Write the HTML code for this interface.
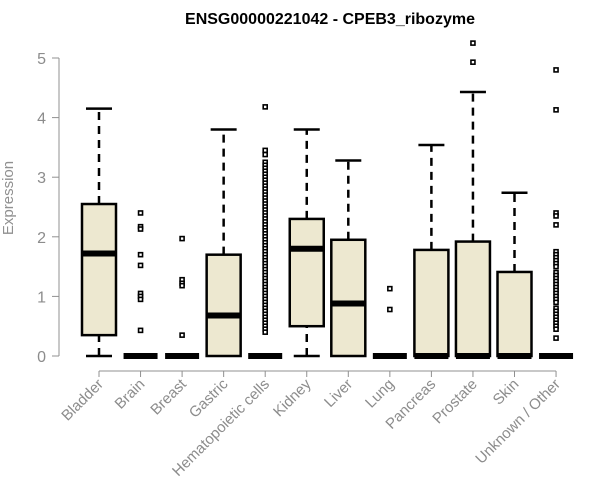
<!DOCTYPE html>
<html><head><meta charset="utf-8"><style>
body{margin:0;background:#fff;}
svg{display:block;font-family:"Liberation Sans",Arial,sans-serif;}
</style></head><body>
<svg id="chart" width="600" height="500" viewBox="0 0 600 500" xmlns="http://www.w3.org/2000/svg">
<text x="330" y="24" text-anchor="middle" font-size="16" font-weight="bold" fill="#000">ENSG00000221042 - CPEB3_ribozyme</text>
<text transform="translate(13,198) rotate(-90)" text-anchor="middle" font-size="15" fill="#909090">Expression</text>
<g id="axes"></g>
<g id="boxes"></g>
</svg>
<script>
const categories=["Bladder","Brain","Breast","Gastric","Hematopoietic cells","Kidney","Liver","Lung","Pancreas","Prostate","Skin","Unknown / Other"];
const mins=[0,0,0,0,0,0,0,0,0,0,0,0];
const q1s=[0.35,0,0,0,0,0.5,0,0,0,0,0,0];
const medians=[1.72,0,0,0.68,0,1.8,0.88,0,0,0,0,0];
const q3s=[2.55,0,0,1.7,0,2.3,1.95,0,1.78,1.92,1.41,0];
const maxs=[4.15,0,0,3.8,0,3.8,3.28,0,3.54,4.43,2.74,0];
const outliers=[
 [],
 [2.4,2.17,2.13,1.7,1.52,1.05,1.0,0.95,0.43],
 [1.97,1.28,1.22,1.18,0.35],
 [],
 [4.18,3.45,3.38,3.25,3.2,3.15,3.1,3.05,3.0,2.95,2.9,2.85,2.8,2.75,2.7,2.65,2.6,2.55,2.5,2.45,2.4,2.35,2.3,2.25,2.2,2.15,2.1,2.05,2.0,1.95,1.9,1.85,1.8,1.75,1.7,1.65,1.6,1.55,1.5,1.45,1.4,1.35,1.3,1.25,1.2,1.15,1.1,1.05,1.0,0.95,0.9,0.85,0.8,0.75,0.7,0.65,0.6,0.55,0.5,0.45,0.4],
 [],
 [],
 [1.13,0.78],
 [],
 [5.25,4.93],
 [],
 [4.8,4.13,2.4,2.35,2.2,1.75,1.7,1.65,1.6,1.55,1.5,1.4,1.35,1.3,1.25,1.2,1.15,1.1,1.05,1.0,0.95,0.9,0.8,0.75,0.7,0.65,0.6,0.55,0.5,0.45,0.3]
];
const yTicks=[0,1,2,3,4,5];
const NS="http://www.w3.org/2000/svg";
const y=v=>356-v*59.6;
const x=i=>99+i*41.55;
function mk(tag,attrs,parent){const e=document.createElementNS(NS,tag);for(const k in attrs)e.setAttribute(k,attrs[k]);parent.appendChild(e);return e;}
const axes=document.getElementById('axes'),boxes=document.getElementById('boxes');
let a=mk('line',{x1:59,x2:59,y1:y(0),y2:y(5),stroke:'#909090'},axes);


yTicks.forEach(t=>{
 const l=mk('line',{x1:52,x2:59,y1:y(t),y2:y(t),stroke:'#909090'},axes);
 
 
 const tx=mk('text',{x:46,y:y(t)+6,'text-anchor':'end','font-size':16,fill:'#8c8c8c'},axes);
 tx.textContent=t;
 
 
});
a=mk('line',{x1:x(0),x2:x(categories.length-1),y1:371,y2:371,stroke:'#909090'},axes);


categories.forEach((c,i)=>{
 const l=mk('line',{x1:x(i),x2:x(i),y1:371,y2:377,stroke:'#909090'},axes);
 
 
 const tx=mk('text',{transform:`translate(${x(i)+5},${385}) rotate(-45)`,'text-anchor':'end','font-size':15,fill:'#8c8c8c'},axes);
 tx.textContent=c;
 
 
 const g=mk('g',{},boxes);
 
 
 const cx=x(i),w=17;
 if(maxs[i]>q3s[i]){mk('line',{x1:cx,x2:cx,y1:y(q3s[i]),y2:y(maxs[i]),stroke:'#000','stroke-width':2.5,'stroke-dasharray':'8,6'},g);
  mk('line',{x1:cx-13,x2:cx+13,y1:y(maxs[i]),y2:y(maxs[i]),stroke:'#000','stroke-width':2.5},g);}
 if(q1s[i]>mins[i]){mk('line',{x1:cx,x2:cx,y1:y(mins[i]),y2:y(q1s[i]),stroke:'#000','stroke-width':2.5,'stroke-dasharray':'8,6'},g);
  mk('line',{x1:cx-13,x2:cx+13,y1:y(mins[i]),y2:y(mins[i]),stroke:'#000','stroke-width':2.5},g);}
 if(q3s[i]>q1s[i]) mk('rect',{x:cx-w,y:y(q3s[i]),width:2*w,height:y(q1s[i])-y(q3s[i]),fill:'#ede8d0',stroke:'#000','stroke-width':2.5},g);
 mk('line',{x1:cx-w,x2:cx+w,y1:y(medians[i]),y2:y(medians[i]),stroke:'#000','stroke-width':6},g);
 outliers[i].forEach(v=>{
  const p=mk('rect',{x:cx-2,y:y(v)-2,width:4,height:4,fill:'#fff',stroke:'#000','stroke-width':1.6},g);
  
  
 });
});
</script>
</body></html>
